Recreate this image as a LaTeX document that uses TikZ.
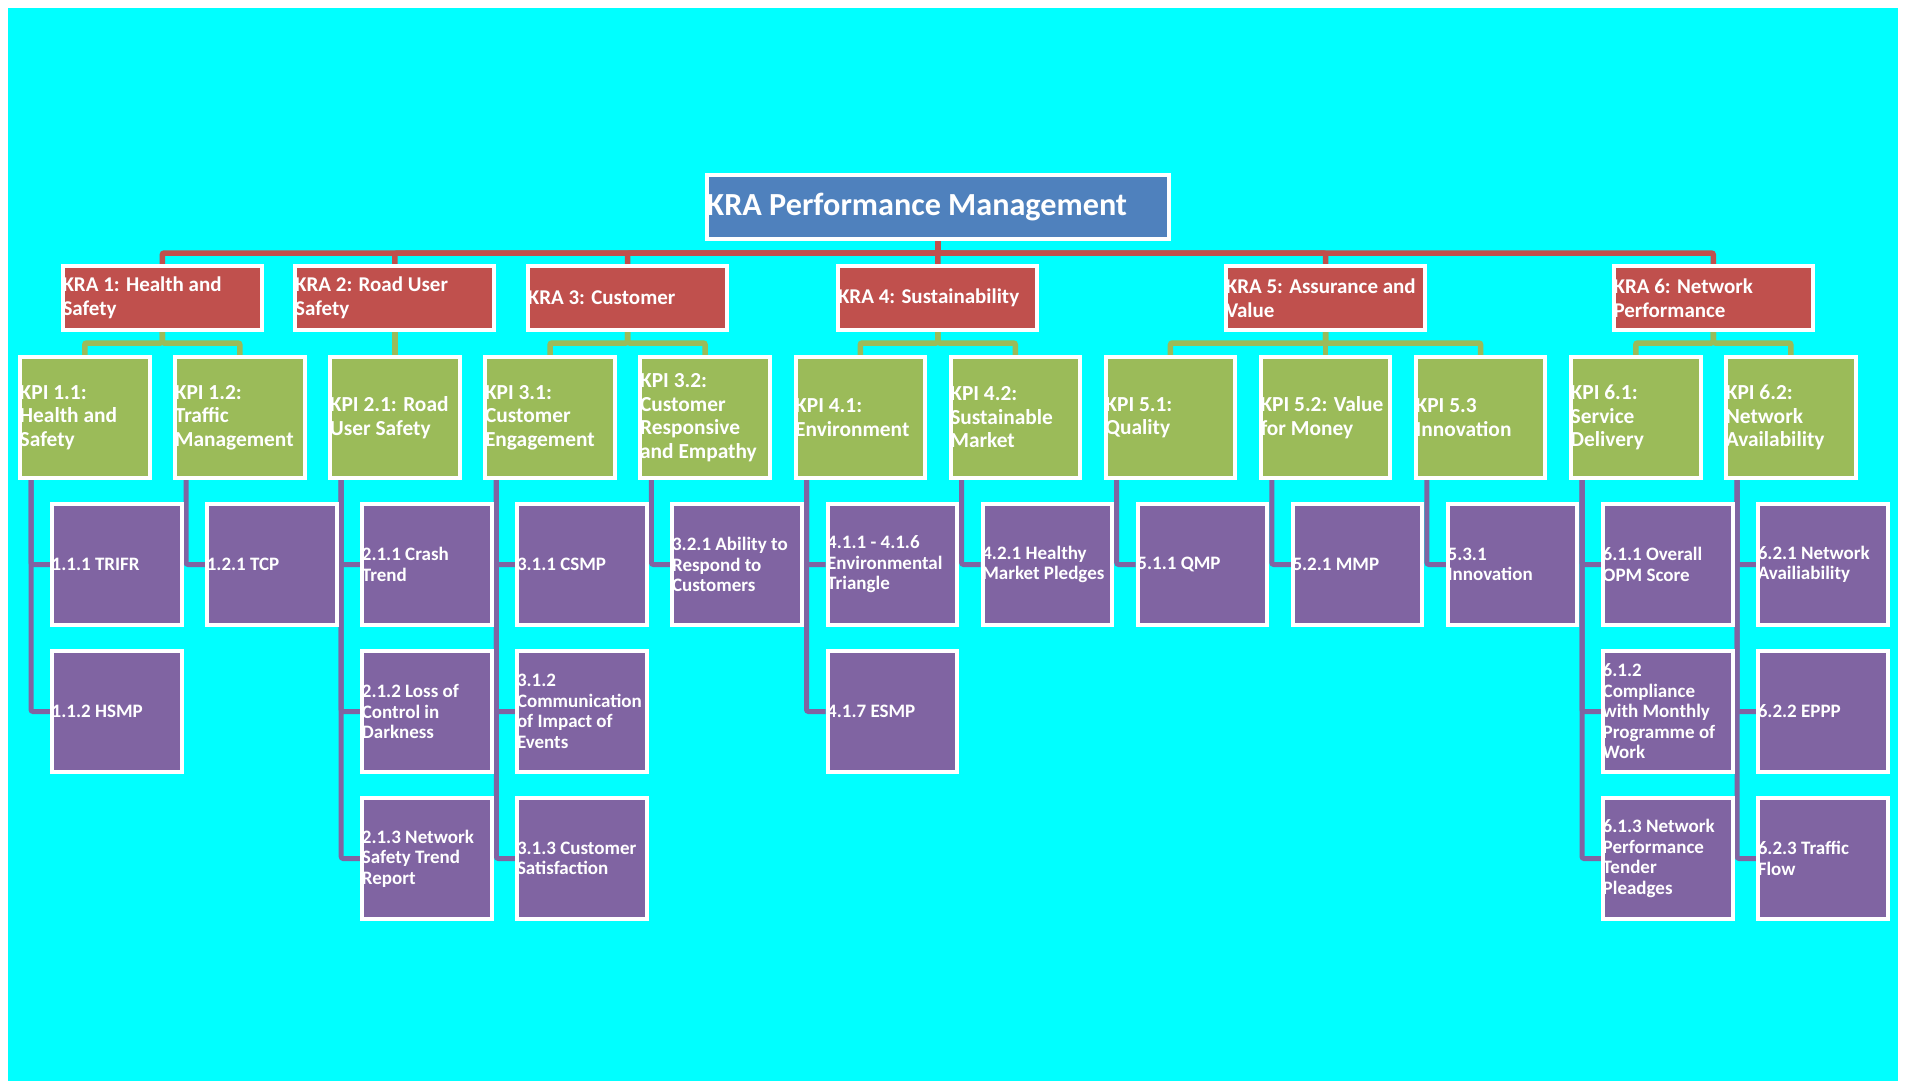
\documentclass[tikz,border=0pt]{standalone}
\usepackage{fontspec}
\setmainfont{Carlito}
\usetikzlibrary{backgrounds}
\definecolor{bgcyan}{HTML}{00FFFF}
\definecolor{kblue}{HTML}{4F81BD}
\definecolor{kred}{HTML}{C0504D}
\definecolor{kgreen}{HTML}{9BBB59}
\definecolor{kpurple}{HTML}{8064A2}
% box with its text set flush left against the inner edge
\newcommand\tbox[5]{%
  \node[#1] (#2) at (#3) {};
  \node[#4] (#2-t) at ([xshift=1.5pt]#2.west) {#5};}
\begin{document}
\begin{tikzpicture}[x=1pt,y=-1pt,
  box/.style={draw=white, line width=4pt, inner sep=0pt},
  titlebox/.style={box, fill=kblue, minimum width=462pt, minimum height=64pt},
  krabox/.style={box, fill=kred, minimum width=199pt, minimum height=64pt},
  kpibox/.style={box, fill=kgreen, minimum width=129.5pt, minimum height=121pt},
  leafbox/.style={box, fill=kpurple, minimum width=129.5pt, minimum height=121pt},
  txt/.style={text=white, align=left, inner sep=0pt, anchor=west},
  titletxt/.style={txt, font=\fontsize{32.2}{36}\selectfont\bfseries},
  kratxt/.style={txt, font=\fontsize{21}{23.5}\selectfont\bfseries},
  kpitxt/.style={txt, font=\fontsize{21.4}{23.5}\selectfont\bfseries},
  leaftxt/.style={txt, font=\fontsize{19}{20.5}\selectfont\bfseries},
  conn/.style={rounded corners=2pt},
  redc/.style={conn, draw=kred, line width=5.5pt},
  greenc/.style={conn, draw=kgreen, line width=5.5pt},
  purc/.style={conn, draw=kpurple, line width=5pt},
]
\useasboundingbox (0,0) rectangle (1905,1081);

% root
\tbox{titlebox}{title}{938,207}{titletxt}{KRA Performance Management}

% key result areas
\tbox{krabox}{kra1}{162.3,298}{kratxt}{KRA 1: Health and\\Safety}
\tbox{krabox}{kra2}{394.95,298}{kratxt}{KRA 2: Road User\\Safety}
\tbox{krabox}{kra3}{627.6,298}{kratxt}{KRA 3: Customer}
\tbox{krabox}{kra4}{937.8,298}{kratxt}{KRA 4: Sustainability}
\tbox{krabox}{kra5}{1325.55,298}{kratxt}{KRA 5: Assurance and\\Value}
\tbox{krabox}{kra6}{1713.3,298}{kratxt}{KRA 6: Network\\Performance}

% key performance indicators
\tbox{kpibox}{p11}{84.75,417.5}{kpitxt}{KPI 1.1:\\Health and\\Safety}
\tbox{kpibox}{p12}{239.85,417.5}{kpitxt}{KPI 1.2:\\Traffic\\Management}
\tbox{kpibox}{p21}{394.95,417.5}{kpitxt}{KPI 2.1: Road\\User Safety}
\tbox{kpibox}{p31}{550.05,417.5}{kpitxt}{KPI 3.1:\\Customer\\Engagement}
\tbox{kpibox}{p32}{705.15,417.5}{kpitxt}{KPI 3.2:\\Customer\\Responsive\\and Empathy}
\tbox{kpibox}{p41}{860.25,417.5}{kpitxt}{KPI 4.1:\\Environment}
\tbox{kpibox}{p42}{1015.35,417.5}{kpitxt}{KPI 4.2:\\Sustainable\\Market}
\tbox{kpibox}{p51}{1170.45,417.5}{kpitxt}{KPI 5.1:\\Quality}
\tbox{kpibox}{p52}{1325.55,417.5}{kpitxt}{KPI 5.2: Value\\for Money}
\tbox{kpibox}{p53}{1480.65,417.5}{kpitxt}{KPI 5.3\\Innovation}
\tbox{kpibox}{p61}{1635.75,417.5}{kpitxt}{KPI 6.1:\\Service\\Delivery}
\tbox{kpibox}{p62}{1790.85,417.5}{kpitxt}{KPI 6.2:\\Network\\Availability}

% measures
\tbox{leafbox}{l111}{116.75,564.5}{leaftxt}{1.1.1 TRIFR}
\tbox{leafbox}{l112}{116.75,711.5}{leaftxt}{1.1.2 HSMP}
\tbox{leafbox}{l121}{271.85,564.5}{leaftxt}{1.2.1 TCP}
\tbox{leafbox}{l211}{426.95,564.5}{leaftxt}{2.1.1 Crash\\Trend}
\tbox{leafbox}{l212}{426.95,711.5}{leaftxt}{2.1.2 Loss of\\Control in\\Darkness}
\tbox{leafbox}{l213}{426.95,858.5}{leaftxt}{2.1.3 Network\\Safety Trend\\Report}
\tbox{leafbox}{l311}{582.05,564.5}{leaftxt}{3.1.1 CSMP}
\tbox{leafbox}{l312}{582.05,711.5}{leaftxt}{3.1.2\\Communication\\of Impact of\\Events}
\tbox{leafbox}{l313}{582.05,858.5}{leaftxt}{3.1.3 Customer\\Satisfaction}
\tbox{leafbox}{l321}{737.15,564.5}{leaftxt}{3.2.1 Ability to\\Respond to\\Customers}
\tbox{leafbox}{l411}{892.25,564.5}{leaftxt}{4.1.1 - 4.1.6\\Environmental\\Triangle}
\tbox{leafbox}{l417}{892.25,711.5}{leaftxt}{4.1.7 ESMP}
\tbox{leafbox}{l421}{1047.35,564.5}{leaftxt}{4.2.1 Healthy\\Market Pledges}
\tbox{leafbox}{l511}{1202.45,564.5}{leaftxt}{5.1.1 QMP}
\tbox{leafbox}{l521}{1357.55,564.5}{leaftxt}{5.2.1 MMP}
\tbox{leafbox}{l531}{1512.65,564.5}{leaftxt}{5.3.1\\Innovation}
\tbox{leafbox}{l611}{1667.75,564.5}{leaftxt}{6.1.1 Overall\\OPM Score}
\tbox{leafbox}{l612}{1667.75,711.5}{leaftxt}{6.1.2\\Compliance\\with Monthly\\Programme of\\Work}
\tbox{leafbox}{l613}{1667.75,858.5}{leaftxt}{6.1.3 Network\\Performance\\Tender\\Pleadges}
\tbox{leafbox}{l621}{1822.85,564.5}{leaftxt}{6.2.1 Network\\Availiability}
\tbox{leafbox}{l622}{1822.85,711.5}{leaftxt}{6.2.2 EPPP}
\tbox{leafbox}{l623}{1822.85,858.5}{leaftxt}{6.2.3 Traffic\\Flow}

\coordinate (rbus) at (0,253);
\coordinate (gbus) at (0,343);

\begin{scope}[on background layer]
  % page and canvas
  \fill[white] (0,0) rectangle (1905,1081);
  \fill[bgcyan] (8,8) rectangle (1898,1081);

  % root to key result areas
  \foreach \k in {kra1,kra2,kra3,kra4,kra5,kra6}
    \draw[redc] (title.south) -- (title.south |- rbus) -| (\k.north);

  % key result areas to indicators
  \foreach \a/\b in {kra1/p11,kra1/p12,kra2/p21,kra3/p31,kra3/p32,kra4/p41,kra4/p42,
                     kra5/p51,kra5/p52,kra5/p53,kra6/p61,kra6/p62}
    \draw[greenc] (\a.south) -- (\a.south |- gbus) -| (\b.north);

  % indicators to measures
  \foreach \a/\b in {p11/l111,p11/l112,p12/l121,p21/l211,p21/l212,p21/l213,
                     p31/l311,p31/l312,p31/l313,p32/l321,p41/l411,p41/l417,
                     p42/l421,p51/l511,p52/l521,p53/l531,p61/l611,p61/l612,
                     p61/l613,p62/l621,p62/l622,p62/l623}
    \draw[purc] ([xshift=13pt]\a.south west) |- (\b.west);
\end{scope}
\end{tikzpicture}
\end{document}
